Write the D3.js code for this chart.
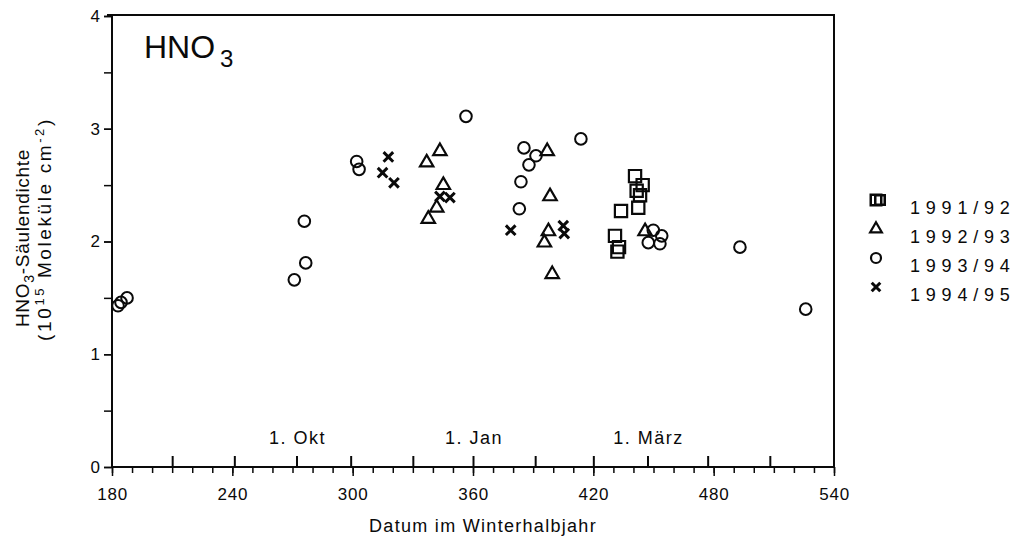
<!DOCTYPE html>
<html><head><meta charset="utf-8">
<script src="https://cdn.jsdelivr.net/npm/d3@7"></script>
<style>
html,body{margin:0;padding:0;background:#fff;}
svg{display:block;font-family:"Liberation Sans",Arial,Helvetica,sans-serif;}
</style></head>
<body>
<svg id="chart" width="1018" height="547"></svg>
<script>
// ---- data ----
const xTickValues = [180, 240, 300, 360, 420, 480, 540];
const yTickValues = [0, 1, 2, 3, 4];
const monthTicks = [210, 241, 272, 299, 330, 360, 391, 420, 447, 477, 508];
const monthLabels = ["1. Okt", "1. Jan", "1. März"];
const monthLabelPos = [272, 360, 447];

const seriesNames = ["1991/92", "1992/93", "1993/94", "1994/95"];

const x9192 = [440.8, 444.6, 441.6, 443.3, 442.4, 433.8, 430.8, 432.8, 432.0];
const y9192 = [2.58, 2.50, 2.45, 2.41, 2.30, 2.27, 2.05, 1.95, 1.91];

const x9293 = [336.9, 343.5, 345.2, 341.9, 337.7, 397.0, 398.4, 397.6, 395.6, 399.5, 445.8];
const y9293 = [2.70, 2.80, 2.50, 2.30, 2.20, 2.80, 2.40, 2.09, 1.99, 1.71, 2.09];

const x9394 = [183, 184.5, 187.5, 270.9, 276.6, 275.9, 302.0, 303.2, 356.5, 383.1, 383.9, 385.4, 387.9, 391.4, 413.8, 447.4, 449.9, 454.1, 453.2, 493.1, 525.9];
const y9394 = [1.43, 1.46, 1.50, 1.66, 1.81, 2.18, 2.71, 2.64, 3.11, 2.29, 2.53, 2.83, 2.68, 2.76, 2.91, 1.99, 2.10, 2.05, 1.98, 1.95, 1.40];

const x9495 = [317.8, 314.9, 320.6, 343.5, 348.5, 378.8, 405.0, 405.5];
const y9495 = [2.75, 2.61, 2.52, 2.40, 2.39, 2.10, 2.14, 2.07];

(function () {
// ---- layout ----
const svg = d3.select("#chart");
const pLeft = 112, pRight = 834, pTop = 15, pBottom = 467;
const x = d3.scaleLinear().domain([180, 540]).range([pLeft, pRight]);
const y = d3.scaleLinear().domain([0, 4]).range([pBottom, 16]);
const ink = "#0a0a0a";
const font = "Liberation Sans, Arial, sans-serif";

// frame
svg.append("rect").attr("x", pLeft).attr("y", pTop)
  .attr("width", pRight - pLeft).attr("height", pBottom - pTop)
  .attr("fill", "none").attr("stroke", ink).attr("stroke-width", 2);
svg.append("line").attr("x1", pLeft - 5).attr("x2", pLeft).attr("y1", pTop).attr("y2", pTop)
  .attr("stroke", ink).attr("stroke-width", 2);

// x axis: minor ticks every 10 (down), major every 60
const gx = svg.append("g").attr("transform", `translate(0,${pBottom})`);
gx.call(d3.axisBottom(x).tickValues(d3.range(180, 541, 10)).tickSize(6).tickFormat(""))
  .call(g => g.select(".domain").remove())
  .call(g => g.selectAll("line").attr("stroke", ink).attr("stroke-width", 1.5));
const gx2 = svg.append("g").attr("transform", `translate(0,${pBottom})`);
gx2.call(d3.axisBottom(x).tickValues(xTickValues).tickSize(9).tickPadding(12))
  .call(g => g.select(".domain").remove())
  .call(g => g.selectAll("line").attr("stroke", ink).attr("stroke-width", 1.5))
  .call(g => g.selectAll("text").attr("fill", ink).attr("font-size", 17)
      .attr("letter-spacing", 0.8).attr("font-family", font));
// month ticks (up, inside)
const gm = svg.append("g").attr("transform", `translate(0,${pBottom})`);
gm.call(d3.axisTop(x).tickValues(monthTicks).tickSize(11).tickFormat(""))
  .call(g => g.select(".domain").remove())
  .call(g => g.selectAll("line").attr("stroke", ink).attr("stroke-width", 2));
svg.append("g").selectAll("text").data(monthLabels).join("text")
  .attr("x", (d, i) => x(monthLabelPos[i]) + 1).attr("y", 444)
  .attr("text-anchor", "middle").attr("font-size", 18).attr("letter-spacing", 1.5).attr("fill", ink)
  .text(d => d);

// y axis
const gy = svg.append("g").attr("transform", `translate(${pLeft},0)`);
gy.call(d3.axisLeft(y).tickValues(d3.range(0, 4.01, 0.5)).tickSize(8).tickFormat(""))
  .call(g => g.select(".domain").remove())
  .call(g => g.selectAll("line").attr("stroke", ink).attr("stroke-width", 1.5));
const gy2 = svg.append("g").attr("transform", `translate(${pLeft},0)`);
gy2.call(d3.axisLeft(y).tickValues(yTickValues).tickSize(8).tickPadding(4).tickFormat(d3.format("d")))
  .call(g => g.select(".domain").remove())
  .call(g => g.selectAll("line").attr("stroke", ink).attr("stroke-width", 1.5))
  .call(g => g.selectAll("text").attr("fill", ink).attr("font-size", 17)
      .attr("font-family", font));

// axis titles
svg.append("text").attr("x", 483).attr("y", 532).attr("text-anchor", "middle")
  .attr("font-size", 18).attr("letter-spacing", 1.3).attr("fill", ink).text("Datum im Winterhalbjahr");

const yt = svg.append("text").attr("transform", "translate(29,238) rotate(-90)")
  .attr("text-anchor", "middle").attr("font-size", 19).attr("letter-spacing", 0.7).attr("fill", ink);
yt.append("tspan").text("HNO");
yt.append("tspan").attr("dy", 5).attr("font-size", 14).text("3");
yt.append("tspan").attr("dy", -5).text("-Säulendichte");
const yt2 = svg.append("text").attr("transform", "translate(51,229) rotate(-90)")
  .attr("text-anchor", "middle").attr("font-size", 19).attr("letter-spacing", 2.6).attr("fill", ink);
yt2.append("tspan").text("(10");
yt2.append("tspan").attr("dy", -7).attr("font-size", 13).text("15");
yt2.append("tspan").attr("dy", 7).text(" Moleküle cm");
yt2.append("tspan").attr("dy", -7).attr("font-size", 13).text("-2");
yt2.append("tspan").attr("dy", 7).text(")");

// chart title
const tt = svg.append("text").attr("x", 144).attr("y", 58).attr("font-size", 32).attr("fill", ink);
tt.append("tspan").text("HNO");
tt.append("tspan").attr("dx", 5).attr("dy", 9).attr("font-size", 24).text("3");

// ---- markers ----
const plot = svg.append("g");
const sq = d3.zip(x9192, y9192), tr = d3.zip(x9293, y9293), ci = d3.zip(x9394, y9394), xx = d3.zip(x9495, y9495);
const symSquare = d3.symbol().type(d3.symbolSquare).size(150);
const symTri = d3.symbol().type(d3.symbolTriangle).size(78);
const symX = d3.symbol().type(d3.symbolTimes).size(62);

plot.selectAll(".ci").data(ci).join("circle").attr("class", "ci")
  .attr("cx", d => x(d[0])).attr("cy", d => y(d[1])).attr("r", 5.8)
  .attr("fill", "none").attr("stroke", ink).attr("stroke-width", 2);
plot.selectAll(".sq").data(sq).join("path").attr("class", "sq")
  .attr("transform", d => `translate(${x(d[0])},${y(d[1])})`).attr("d", symSquare)
  .attr("fill", "none").attr("stroke", ink).attr("stroke-width", 2.2);
plot.selectAll(".tr").data(tr).join("path").attr("class", "tr")
  .attr("transform", d => `translate(${x(d[0])},${y(d[1])})`).attr("d", symTri)
  .attr("fill", "none").attr("stroke", ink).attr("stroke-width", 2.2);
plot.selectAll(".xx").data(xx).join("path").attr("class", "xx")
  .attr("transform", d => `translate(${x(d[0])},${y(d[1])})`).attr("d", symX)
  .attr("fill", "none").attr("stroke", ink).attr("stroke-width", 3);

// ---- legend ----
const legY = [200, 229, 258, 287];
const lg = svg.append("g");
lg.append("path").attr("transform", `translate(876,${legY[0]})`).attr("d", d3.symbol().type(d3.symbolSquare).size(110))
  .attr("fill", "none").attr("stroke", ink).attr("stroke-width", 2.5);
lg.append("path").attr("transform", `translate(880,${legY[0]})`).attr("d", d3.symbol().type(d3.symbolSquare).size(90))
  .attr("fill", "none").attr("stroke", ink).attr("stroke-width", 2.5);
lg.append("path").attr("transform", `translate(876,${legY[1]})`).attr("d", d3.symbol().type(d3.symbolTriangle).size(60))
  .attr("fill", "none").attr("stroke", ink).attr("stroke-width", 2.2);
lg.append("circle").attr("cx", 876).attr("cy", legY[2]).attr("r", 5)
  .attr("fill", "none").attr("stroke", ink).attr("stroke-width", 2.2);
lg.append("path").attr("transform", `translate(876,${legY[3]})`).attr("d", d3.symbol().type(d3.symbolTimes).size(50))
  .attr("fill", "none").attr("stroke", ink).attr("stroke-width", 3);
lg.selectAll(".lt").data(seriesNames).join("text").attr("class", "lt")
  .attr("x", 910).attr("y", (d, i) => legY[i] + 14)
  .attr("font-size", 18).attr("letter-spacing", 5.8).attr("fill", ink).text(d => d);
})();
</script>
</body></html>
